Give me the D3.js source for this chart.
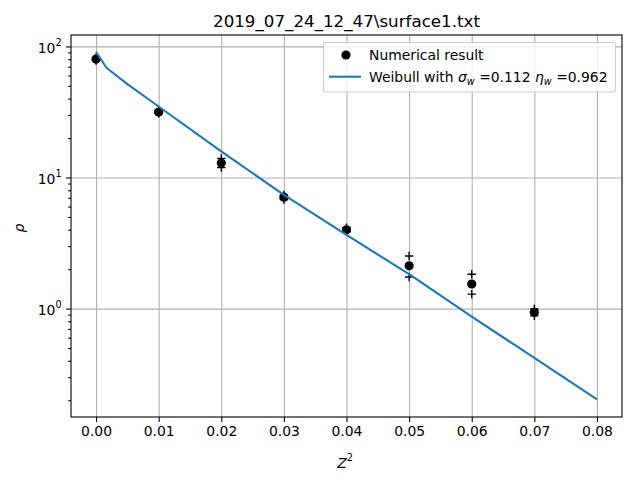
<!DOCTYPE html>
<html>
<head>
<meta charset="utf-8">
<script src="https://cdn.jsdelivr.net/npm/d3@7"></script>
<style>
  body { margin: 0; background: #fff; }
  svg { font-family: "DejaVu Sans", sans-serif; }
</style>
</head>
<body>
<svg id="chart" width="640" height="480"></svg>
<script>
// numerical result points (rho vs Z^2) with upper / lower markers
const zPts = [0.00, 0.01, 0.02, 0.03, 0.04, 0.05, 0.06, 0.07];
const rhoPts = [80.1, 31.6, 12.9, 7.08, 3.99, 2.12, 1.54, 0.938];
const rhoUpper = [82.0, 32.5, 14.0, 7.35, 4.15, 2.52, 1.83, 0.995];
const rhoLower = [78.0, 30.8, 11.9, 6.80, 3.85, 1.74, 1.29, 0.880];

// weibull fit curve
const fitZ = [0.0, 0.0017, 0.005, 0.01, 0.02, 0.03, 0.04, 0.05, 0.06, 0.07, 0.08];
const fitRho = [90.6, 68.4, 51.5, 34.8, 15.8, 7.38, 3.65, 1.83, 0.87, 0.42, 0.203];

const xTicks = [0.00, 0.01, 0.02, 0.03, 0.04, 0.05, 0.06, 0.07, 0.08];
const yTicks = [1, 10, 100];

const mLeft = 71, mRight = 622, mTop = 35, mBottom = 417;
const svg = d3.select("#chart");

const x = d3.scaleLinear().domain([-0.004, 0.084]).range([mLeft, mRight]);
const y = d3.scaleLog().domain([0.149, 122.2]).range([mBottom, mTop]);

// minor tick values for the log axis
const yMinor = [];
[0.1, 1, 10].forEach(d => {
    for (let k = 2; k <= 9; k++) {
        const v = d * k;
        if (v >= 0.149 && v <= 122.2) yMinor.push(v);
    }
});

// grid
svg.append("g")
    .attr("transform", "translate(0," + mBottom + ")")
    .call(d3.axisBottom(x).tickValues(xTicks).tickSize(-(mBottom - mTop)).tickFormat(""))
    .call(g => g.select(".domain").remove())
    .call(g => g.selectAll("line").attr("stroke", "#b0b0b0").attr("stroke-width", 1.1));
svg.append("g")
    .attr("transform", "translate(" + mLeft + ",0)")
    .call(d3.axisLeft(y).tickValues(yTicks).tickSize(-(mRight - mLeft)).tickFormat(""))
    .call(g => g.select(".domain").remove())
    .call(g => g.selectAll("line").attr("stroke", "#b0b0b0").attr("stroke-width", 1.1));

// points
svg.append("g").selectAll("circle")
    .data(zPts)
    .enter().append("circle")
    .attr("cx", d => x(d))
    .attr("cy", (d, i) => y(rhoPts[i]))
    .attr("r", 4.6)
    .attr("fill", "#000");

// plus markers
const plusData = zPts.map((d, i) => [d, rhoUpper[i]]).concat(zPts.map((d, i) => [d, rhoLower[i]]));
svg.append("g").selectAll("path")
    .data(plusData)
    .enter().append("path")
    .attr("d", d => {
        const px = x(d[0]), py = y(d[1]), s = 4.2;
        return "M" + (px - s) + "," + py + "H" + (px + s) + "M" + px + "," + (py - s) + "V" + (py + s);
    })
    .attr("stroke", "#000")
    .attr("stroke-width", 1.4)
    .attr("fill", "none");

// fit line
const line = d3.line().x(d => x(d[0])).y(d => y(d[1]));
svg.append("path")
    .datum(fitZ.map((d, i) => [d, fitRho[i]]))
    .attr("d", line)
    .attr("fill", "none")
    .attr("stroke", "#1f77b4")
    .attr("stroke-width", 2.1)
    .attr("stroke-linejoin", "round");

// axes
const xAxis = svg.append("g")
    .attr("transform", "translate(0," + mBottom + ")")
    .call(d3.axisBottom(x).tickValues(xTicks).tickSize(4.9).tickPadding(4.5).tickFormat(d3.format(".2f")));
xAxis.selectAll("text").attr("font-size", "13.9px").attr("fill", "#000").attr("font-family", "DejaVu Sans");

const yMinorAxis = svg.append("g")
    .attr("transform", "translate(" + mLeft + ",0)")
    .call(d3.axisLeft(y).tickValues(yMinor).tickSize(2.8).tickFormat(""));

const yAxis = svg.append("g")
    .attr("transform", "translate(" + mLeft + ",0)")
    .call(d3.axisLeft(y).tickValues(yTicks).tickSize(4.9).tickPadding(4.5).tickFormat(""));
yAxis.selectAll(".tick text")
    .attr("font-size", "13.9px").attr("fill", "#000").attr("font-family", "DejaVu Sans")
    .attr("dy", "0.45em")
    .each(function (d) {
        const t = d3.select(this);
        t.append("tspan").text("10");
        t.append("tspan").attr("font-size", "9.7px").attr("dy", "-0.75em").text(Math.round(Math.log10(d)));
    });

[xAxis, yMinorAxis, yAxis].forEach(g => {
    g.selectAll(".tick line").attr("stroke", "#000").attr("stroke-width", 1.1);
    g.select(".domain").remove();
});

// frame
svg.append("rect")
    .attr("x", mLeft).attr("y", mTop)
    .attr("width", mRight - mLeft).attr("height", mBottom - mTop)
    .attr("fill", "none").attr("stroke", "#000").attr("stroke-width", 1.1);

// title and labels
svg.append("text")
    .attr("x", (mLeft + mRight) / 2).attr("y", 27)
    .attr("text-anchor", "middle").attr("font-size", "16.7px")
    .text("2019_07_24_12_47\\surface1.txt");

const xl = svg.append("text")
    .attr("x", 345).attr("y", 468)
    .attr("text-anchor", "middle").attr("font-size", "13.9px");
xl.append("tspan").attr("font-style", "italic").text("Z");
xl.append("tspan").attr("font-size", "9.7px").attr("dy", "-0.7em").text("2");

svg.append("text")
    .attr("transform", "translate(24,228) rotate(-90)")
    .attr("text-anchor", "middle").attr("font-size", "13.9px").attr("font-style", "italic")
    .text("ρ");

// legend
const lg = svg.append("g");
lg.append("rect")
    .attr("x", 323.5).attr("y", 42.5).attr("width", 292).attr("height", 49.5)
    .attr("rx", 2.5)
    .attr("fill", "rgba(255,255,255,0.8)").attr("stroke", "#cccccc").attr("stroke-width", 1.1);
lg.append("circle").attr("cx", 346).attr("cy", 55).attr("r", 4.6).attr("fill", "#000");
lg.append("text").attr("x", 369).attr("y", 60).attr("font-size", "13.9px").text("Numerical result");
lg.append("line").attr("x1", 329).attr("x2", 361).attr("y1", 76.7).attr("y2", 76.7)
    .attr("stroke", "#1f77b4").attr("stroke-width", 2.1);
const lt = lg.append("text").attr("x", 369).attr("y", 82).attr("font-size", "13.9px");
lt.append("tspan").text("Weibull with ");
lt.append("tspan").attr("font-style", "italic").text("σ");
lt.append("tspan").attr("font-style", "italic").attr("font-size", "9.7px").attr("dy", "2.5").text("w");
lt.append("tspan").attr("dy", "-2.5").text(" =0.112 ");
lt.append("tspan").attr("font-style", "italic").text("η");
lt.append("tspan").attr("font-style", "italic").attr("font-size", "9.7px").attr("dy", "2.5").text("w");
lt.append("tspan").attr("dy", "-2.5").text(" =0.962");
</script>
</body>
</html>
